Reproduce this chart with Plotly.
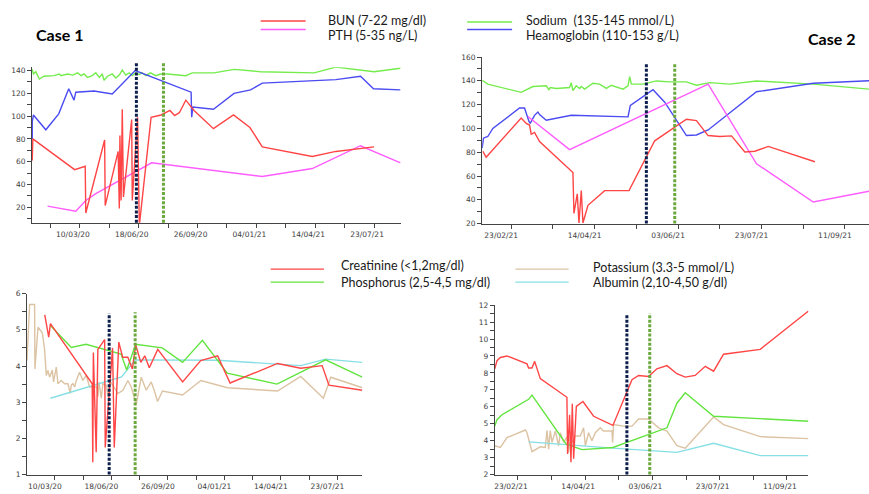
import pandas as pd
import plotly.graph_objects as go

# ---------------- data (days since base date) ----------------
C1_BASE = "2020-03-10"
C2_BASE = "2021-02-23"

# Case 1 - top panel
c1_sodium_day = [-81, -79, -75, -69, -61, -44, -35, -32, -21, -12, -4, 2, 7, 13, 21, 27, 33, 38, 41, 47,
                 55, 61, 67, 72, 78, 84, 89, 95, 101, 106, 112, 120, 129, 137, 149, 166, 180, 191, 228, 262,
                 307, 398, 435, 500, 545]
c1_sodium = [141, 137, 139, 132.5, 135, 135.5, 137, 135.5, 137, 136, 138, 135.5, 137, 134, 135.5, 138, 134,
             137, 131.5, 135, 137, 133.5, 136, 140.5, 136, 138, 135.5, 138, 136.5, 138, 135.5, 138, 135.5,
             137, 137, 136.5, 135.5, 138, 138, 141, 139, 138, 143, 139, 142]
c1_hgb_day = [-81, -81, -79, -58, -36, -19, -10, -7, 24, 55, 94, 189, 190, 192, 227, 262, 290, 310, 435,
              477, 499, 545]
c1_hgb = [80, 95, 101, 88, 102, 124, 114, 121, 122, 119.5, 140, 121, 99, 108, 106, 120, 123, 129, 132, 135,
          124, 123]
c1_bun_day = [-81, -80, -9, 9, 10, 42, 43, 65, 67, 68, 70, 72, 74, 88, 89, 98, 101, 121, 138, 153, 161, 169,
              180, 194, 227, 261, 289, 310, 395, 435, 500]
c1_bun = [61, 80, 53, 56, 15, 79, 21.5, 69, 19, 83, 26, 106, 29, 97, 26, 99, 4, 99, 101, 105, 100.5, 103,
          114, 105, 89, 101, 90, 73, 64.5, 69, 73]
c1_pth_day = [-55, -7, 10, 27, 122, 310, 395, 477, 545]
c1_pth = [21, 16.5, 26, 32, 59, 47, 54, 74, 59]

# Case 1 - bottom panel
c1_creat_day = [-18, -11, -8, 66, 67, 68, 73, 76, 88, 89, 102, 105, 113, 120, 129, 137, 143, 152, 159, 167,
                182, 226, 258, 288, 310, 394, 435, 473, 485, 544]
c1_creat = [5.41, 4.80, 5.17, 3.51, 1.34, 4.37, 1.62, 4.46, 4.73, 1.75, 4.50, 1.75, 4.66, 4.24, 4.24, 3.92,
            4.58, 4.10, 4.28, 3.95, 4.46, 3.56, 4.15, 4.28, 3.53, 4.07, 3.94, 4.01, 3.47, 3.33]
c1_phos_day = [-8, 29, 55, 117, 127, 143, 190, 226, 261, 305, 393, 479, 544]
c1_phos = [5.12, 4.51, 4.60, 4.33, 3.89, 4.60, 4.50, 4.10, 4.71, 3.80, 3.50, 4.17, 3.69]
c1_pot_day = [-49.5, -44.8, -36, -35.4, -30, -22.4, -18.3, -15.3, -12.4, -9.4, -4.7, -2.4, 2.4, 5.3, 11.2,
              17.1, 23, 27.1, 28.9, 31.8, 34.8, 37.7, 43.6, 49.5, 55.4, 61.3, 67.2, 74.3, 76.1, 77.8, 82,
              84.9, 90.8, 93.8, 97.9, 102.6, 111.4, 120.3, 129.1, 135, 143.9, 152.7, 161.6, 170.4, 175.7,
              181.6, 190.4, 225.8, 258.3, 305.4, 393.9, 435.1, 475.2, 488.2, 544.2]
c1_pot = [4.15, 5.70, 5.70, 3.92, 5.07, 4.92, 4.46, 3.74, 3.88, 3.69, 3.89, 3.56, 3.97, 3.51, 3.60, 3.51,
          3.51, 3.24, 3.47, 3.51, 3.42, 3.59, 3.83, 3.60, 3.74, 3.42, 3.42, 3.42, 3.15, 3.56, 3.11, 3.51,
          3.47, 3.15, 3.56, 3.47, 3.24, 3.33, 3.60, 3.42, 2.93, 3.69, 3.33, 3.56, 3.33, 3.02, 3.31, 3.20,
          3.60, 3.40, 3.31, 3.71, 3.11, 3.69, 3.40]
c1_alb_day = [-8, 118, 142, 288, 435, 479, 544]
c1_alb = [3.11, 3.70, 4.17, 4.16, 4.01, 4.19, 4.10]

# Case 2 - top panel
c2_sodium_day = [-17.4, -14, 6, 9, 13, 21, 22.6, 23.4, 27, 35, 36, 37, 39, 41, 42, 44, 49, 53, 57, 60, 67,
                 70, 71, 72, 79, 87, 95, 105, 111, 119, 131, 147, 181, 214.4]
c2_sodium = [140.5, 137.2, 130.3, 132.5, 135.2, 135.8, 132.5, 134.4, 133.6, 134.4, 138.5, 131.7, 135.8,
             133.6, 135.2, 133, 138, 137.2, 133.6, 136.3, 133, 135.8, 143.5, 137.2, 137.2, 139.9, 139.1,
             139.1, 136.3, 138.5, 137.2, 139.9, 137.2, 133]
c2_hgb_day = [-17.4, -16.6, -14, -11, 5, 8, 10.6, 11.4, 14, 16, 17, 21, 36, 70, 71.4, 85, 92, 105, 111, 118,
              147, 181, 214.4]
c2_hgb = [83.5, 91.8, 93.2, 100, 117.1, 117.1, 106.1, 104.2, 111, 113.8, 111.6, 106.9, 111, 109.7, 119.3,
          132.5, 122, 94, 94.5, 98.7, 130.8, 138, 140]
c2_bun_day = [-17, -15, 6, 9, 11, 12, 14, 17, 37, 37.6, 39.6, 40.6, 42, 43, 46, 56, 70.6, 86, 105, 111, 118,
              125, 132, 140, 146, 154, 182]
c2_bun = [80.8, 75.8, 108.8, 104.2, 102.8, 95.1, 96.7, 89, 62.9, 28.5, 45, 20.5, 47.7, 20.5, 35.4, 47.7,
          47.7, 89.6, 107.7, 106.6, 94, 93.2, 93.7, 80.2, 80.8, 84.9, 72]
c2_pth_day = [10, 35, 118, 147, 181, 214.4]
c2_pth = [110, 82.2, 137.2, 70.3, 38.2, 47.2]

# Case 2 - bottom panel
c2_creat_day = [-17.3, -15.6, -13.1, -8.2, 6.7, 7.9, 10.4, 12.4, 16.6, 36.4, 36.9, 38.4, 39.4, 40.4, 41.4,
                43.4, 48.3, 56.3, 70.6, 78.6, 84.8, 89.7, 97.1, 103.3, 110.8, 118.2, 124.4, 131.8, 139.3,
                145.5, 152.9, 180.2, 216.1]
c2_creat = [8.24, 8.72, 8.91, 9.0, 8.53, 8.29, 8.29, 8.68, 7.66, 6.56, 3.22, 5.53, 2.73, 6.18, 2.93, 6.02,
            6.31, 5.44, 4.9, 6.4, 7.6, 7.85, 7.79, 8.24, 8.43, 7.95, 7.75, 7.85, 8.39, 8.1, 9.1, 9.39, 11.65]
c2_phos_day = [-17.3, -15.6, -11.9, 7.9, 10.4, 35.9, 47.6, 70.6, 110.8, 118.2, 124.4, 145.5, 216.1]
c2_phos = [4.86, 5.24, 5.53, 6.44, 6.69, 3.8, 3.47, 3.6, 4.76, 6.21, 6.83, 5.44, 5.15]
c2_pot_day = [-17.3, -13.1, -8.2, 5.5, 6.7, 10.4, 16.6, 20.3, 21.6, 22.8, 24, 25.3, 27.8, 30.2, 31.5, 34,
              36.4, 37.7, 38.9, 40.1, 42.6, 46.3, 48.8, 50.1, 52.5, 55, 57.5, 61.2, 63.7, 69.9, 70.4, 71.1,
              78.6, 84.8, 89.7, 97.1, 104.6, 110.8, 118.2, 124.4, 145.5, 152.9, 180.2, 216.1]
c2_pot = [3.7, 3.6, 4.18, 4.63, 4.47, 3.35, 3.64, 3.6, 4.61, 3.5, 4.6, 3.9, 4.57, 3.7, 4.47, 3.9, 4.22, 3.3,
          4.24, 3.9, 4.28, 4.28, 4.76, 3.7, 4.47, 3.99, 4.47, 4.76, 4.57, 4.57, 3.9, 4.95, 4.86, 4.86, 5.28,
          5.28, 4.76, 4.57, 3.7, 3.56, 5.4, 4.95, 4.24, 4.12]
c2_alb_day = [7.9, 35.2, 70.6, 118.2, 145.5, 180.2, 216.1]
c2_alb = [3.93, 3.76, 3.56, 3.31, 3.85, 3.12, 3.12]

# event markers (dotted vertical lines), days since base
c1_event_days = [96, 142]
c2_event_days = [81, 98]

# tick labels
c1_tick_days = [-50, 0, 50, 100, 150, 200, 250, 300, 350, 400, 450, 500]
c1_tick_text = ["", "10/03/20", "", "18/06/20", "", "26/09/20", "", "04/01/21", "", "14/04/21", "", "23/07/21"]
c2_tick_days = [0, 25, 50, 75, 100, 125, 150, 175, 200]
c2_tick_text = ["23/02/21", "", "14/04/21", "", "03/06/21", "", "23/07/21", "", "11/09/21"]

# ---------------- styling ----------------
W, H = 869, 494
RED = "#ff4545"
MAGENTA = "#ff5cff"
GREEN_NA = "#74ec4c"
BLUE = "#4b4bf2"
GREEN_P = "#62e43e"
TAN = "#dcc3a3"
CYAN = "#86dfe4"
NAVY = "#0c1f4c"
DOTGREEN = "#6aa83c"
AXC = "#444444"


def dates(base, days):
    return pd.Timestamp(base) + pd.to_timedelta(days, unit="D")


def px(x):
    return x / W


def py(y):
    return 1 - y / H


fig = go.Figure()


def add(xa, ya, base, days, vals, color, width=1.4):
    fig.add_trace(go.Scatter(x=dates(base, days), y=vals, mode="lines",
                             line=dict(color=color, width=width),
                             xaxis=xa, yaxis=ya, showlegend=False, hoverinfo="skip"))


# TL
add("x", "y", C1_BASE, c1_sodium_day, c1_sodium, GREEN_NA)
add("x", "y", C1_BASE, c1_hgb_day, c1_hgb, BLUE)
add("x", "y", C1_BASE, c1_pth_day, c1_pth, MAGENTA)
add("x", "y", C1_BASE, c1_bun_day, c1_bun, RED)
# TR
add("x2", "y2", C2_BASE, c2_sodium_day, c2_sodium, GREEN_NA)
add("x2", "y2", C2_BASE, c2_hgb_day, c2_hgb, BLUE)
add("x2", "y2", C2_BASE, c2_pth_day, c2_pth, MAGENTA)
add("x2", "y2", C2_BASE, c2_bun_day, c2_bun, RED)
# BL
add("x3", "y3", C1_BASE, c1_pot_day, c1_pot, TAN)
add("x3", "y3", C1_BASE, c1_alb_day, c1_alb, CYAN)
add("x3", "y3", C1_BASE, c1_phos_day, c1_phos, GREEN_P)
add("x3", "y3", C1_BASE, c1_creat_day, c1_creat, RED)
# BR
add("x4", "y4", C2_BASE, c2_pot_day, c2_pot, TAN)
add("x4", "y4", C2_BASE, c2_alb_day, c2_alb, CYAN)
add("x4", "y4", C2_BASE, c2_phos_day, c2_phos, GREEN_P)
add("x4", "y4", C2_BASE, c2_creat_day, c2_creat, RED)

TICKFONT = dict(family="DejaVu Sans", size=7.5, color="#404040")


def xcfg(dom, anchor, base, rng_days, tdays, ttext, shift):
    r = [str(d) for d in dates(base, rng_days)]
    tv = [str(d) for d in dates(base, tdays)]
    return dict(domain=dom, anchor=anchor, type="date", range=r, tickmode="array",
                tickvals=tv, ticktext=ttext, ticks="outside", ticklen=4, tickcolor=AXC,
                showline=True, linecolor=AXC, linewidth=1, showgrid=False, zeroline=False,
                tickfont=TICKFONT, ticklabelshift=shift)


def ycfg(dom, anchor, rng, dtick, minor):
    return dict(domain=dom, anchor=anchor, range=rng, tickmode="linear", tick0=0, dtick=dtick,
                ticks="outside", ticklen=4, tickcolor=AXC, showline=True, linecolor=AXC,
                linewidth=1, showgrid=False, zeroline=False, tickfont=TICKFONT,
                minor=dict(ticks="outside", dtick=minor, tick0=0, ticklen=4, tickcolor=AXC))


layout = dict(
    width=W, height=H, margin=dict(l=0, r=0, t=0, b=0, pad=0),
    paper_bgcolor="white", plot_bgcolor="white", showlegend=False,
    xaxis=xcfg([px(31), px(400)], "y", C1_BASE, [-81.5, 545], c1_tick_days, c1_tick_text, -7),
    yaxis=ycfg([py(222.7), py(64.3)], "x", [6.5, 143], 20, 10),
    xaxis2=xcfg([px(481.7), 1.0], "y2", C2_BASE, [-17.4, 214.4], c2_tick_days, c2_tick_text, -10),
    yaxis2=ycfg([py(223.7), py(54)], "x2", [20, 160], 20, 10),
    xaxis3=xcfg([px(26), px(361.7)], "y3", C1_BASE, [-49.5, 544], c1_tick_days, c1_tick_text, -10),
    yaxis3=ycfg([py(479.3), py(295)], "x3", [1, 6], 1, 0.5),
    xaxis4=xcfg([px(494.3), px(808.3)], "y4", C2_BASE, [-17.3, 216], c2_tick_days, c2_tick_text, -7),
    yaxis4=ycfg([py(479.3), py(306.7)], "x4", [2, 12], 1, 0.5),
)
fig.update_layout(**layout)

# dotted event lines
shapes = []
event_specs = [
    ("x", "y", C1_BASE, c1_event_days, [1.033, 1.033]),
    ("x2", "y2", C2_BASE, c2_event_days, [0.965, 0.965]),
    ("x3", "y3", C1_BASE, c1_event_days, [0.891, 0.897]),
    ("x4", "y4", C2_BASE, c2_event_days, [0.948, 0.952]),
]
for xa, ya, base, evd, tops in event_specs:
    for d, col, top in zip(dates(base, evd), [NAVY, DOTGREEN], tops):
        shapes.append(dict(type="line", xref=xa, yref=ya + " domain", x0=str(d), x1=str(d),
                           y0=0, y1=top, line=dict(color=col, width=3, dash="3px,1.6px")))

# legend samples
LEGFONT = dict(family="Lato", size=12.5, color="#1a1a1a")
legend_items = [
    (260, 305, 17.3, 325, 17, "BUN (7-22 mg/dl)", RED),
    (260, 305, 26, 325, 31.7, "PTH (5-35 ng/L)", MAGENTA),
    (466.7, 511.7, 18.3, 523.3, 17.3, "Sodium  (135-145 mmol/L)", GREEN_NA),
    (466.7, 511.7, 26, 523.3, 31.7, "Heamoglobin (110-153 g/L)", BLUE),
    (270, 323.3, 270, 338.3, 266.7, "Creatinine (<1,2mg/dl)", RED),
    (270, 323.3, 283.3, 338.3, 283.3, "Phosphorus (2,5-4,5 mg/dl)", GREEN_P),
    (515, 568.3, 270, 591, 268.3, "Potassium (3.3-5 mmol/L)", TAN),
    (515, 568.3, 283.3, 591, 284, "Albumin (2,10-4,50 g/dl)", CYAN),
]
annotations = []
for x0, x1, ly, tx, ty, label, col in legend_items:
    shapes.append(dict(type="line", xref="paper", yref="paper", x0=px(x0), x1=px(x1),
                       y0=py(ly), y1=py(ly), line=dict(color=col, width=1.4)))
    annotations.append(dict(xref="paper", yref="paper", x=px(tx), y=py(ty), text=label,
                            showarrow=False, xanchor="left", yanchor="middle", font=LEGFONT))

annotations.append(dict(xref="paper", yref="paper", x=px(33), y=py(31), text="<b>Case 1</b>",
                        showarrow=False, xanchor="left", yanchor="middle",
                        font=dict(family="Lato", size=16, color="black")))
annotations.append(dict(xref="paper", yref="paper", x=px(857), y=py(35), text="<b>Case 2</b>",
                        showarrow=False, xanchor="right", yanchor="middle",
                        font=dict(family="Lato", size=16, color="black")))

fig.update_layout(shapes=shapes, annotations=annotations)
fig.write_html("out.html", config={"displayModeBar": False},
               post_script="document.body.style.margin='0';document.body.style.padding='0';")
